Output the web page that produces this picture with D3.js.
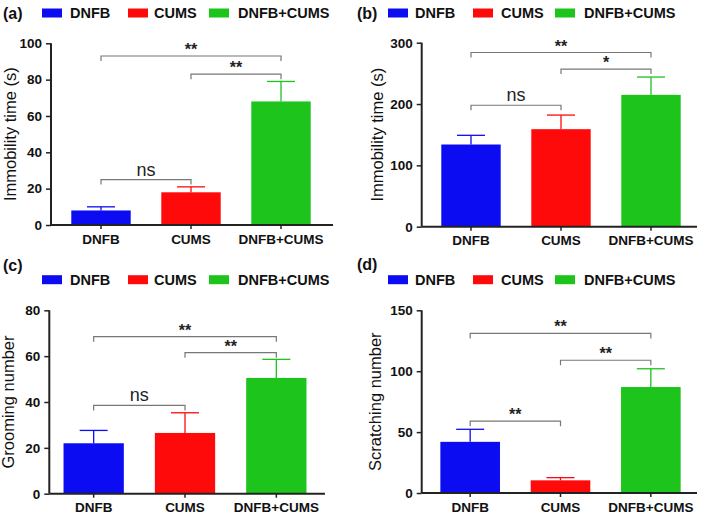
<!DOCTYPE html>
<html><head><meta charset="utf-8">
<script src="https://cdn.jsdelivr.net/npm/d3@7"></script>
<style>body{margin:0;background:#fff}svg{display:block}</style>
</head><body>
<svg id="c" width="709" height="514"></svg>
<script>
const groups = ["DNFB", "CUMS", "DNFB+CUMS"];
const colors = ["#0c0cf2", "#ff0a0a", "#1cc41c"];
const panelLabels = ["(a)", "(b)", "(c)", "(d)"];
const yTitles = ["Immobility time (s)", "Immobility time (s)", "Grooming number", "Scratching number"];
const yMax = [100, 300, 80, 150];
const yTicks = [[0,20,40,60,80,100],[0,100,200,300],[0,20,40,60,80],[0,50,100,150]];
const meansA = [8, 18, 68];
const errA = [10, 21, 79];
const meansB = [134, 159, 215];
const errB = [149, 182, 244];
const meansC = [22, 26.5, 50.5];
const errC = [27.6, 35.3, 58.6];
const meansD = [42, 10.4, 87];
const errD = [52.3, 12.6, 102];
// significance: [from, to, label, bracket level]
const sigA = [[0,2,"**",93],[1,2,"**",83],[0,1,"ns",25]];
const sigB = [[0,2,"**",284],[1,2,"*",257],[0,1,"ns",198]];
const sigC = [[0,2,"**",68.5],[1,2,"**",61.5],[0,1,"ns",38.5]];
const sigD = [[0,2,"**",131],[1,2,"**",109],[0,1,"**",59]];

const means = [meansA, meansB, meansC, meansD];
const errs = [errA, errB, errC, errD];
const sigs = [sigA, sigB, sigC, sigD];

const layout = [
  {axX:51, x1:333, y0:225, yTop:43.3, legY:13, lab:[3,13], swX:[42,128,209], txX:[70,154,238], cat:[56,326], tOff:35.5},
  {axX:421.7, x1:697, y0:226.7, yTop:42.7, legY:13, lab:[357,13], swX:[388,473,555], txX:[415,501,584], cat:[426,696], tOff:39},
  {axX:49.3, x1:325, y0:493.7, yTop:310.3, legY:279.7, lab:[3,265], swX:[42,128,209], txX:[70,154,238], cat:[48,322], tOff:35.5},
  {axX:421.7, x1:697, y0:493, yTop:310.3, legY:279.7, lab:[357,264], swX:[388,473,555], txX:[415,501,584], cat:[425,696], tOff:41}
];

const svg = d3.select("#c");
const font = "Arial, 'Liberation Sans', sans-serif";

layout.forEach((L, p) => {
  const g = svg.append("g");
  const x = d3.scaleBand().domain(groups).range(L.cat).paddingInner(0.34).paddingOuter(0.17);
  const y = d3.scaleLinear().domain([0, yMax[p]]).range([L.y0, L.yTop]);
  const bw = x.bandwidth();
  const cx = d => x(d) + bw/2;

  g.append("text").attr("x", L.lab[0]).attr("y", L.lab[1]).attr("dy", "0.35em")
    .attr("font-family", font).attr("font-weight", "bold").attr("font-size", 16).attr("fill", "#111").text(panelLabels[p]);
  groups.forEach((k, i) => {
    g.append("rect").attr("x", L.swX[i]).attr("y", L.legY - 4.5).attr("width", 20).attr("height", 9).attr("fill", colors[i]);
    g.append("text").attr("x", L.txX[i]).attr("y", L.legY).attr("dy", "0.36em")
      .attr("font-family", font).attr("font-weight", "bold").attr("font-size", 14.5).attr("fill", "#111").text(k);
  });

  groups.forEach((k, i) => {
    const m = means[p][i], e = errs[p][i];
    g.append("line").attr("x1", cx(k)).attr("x2", cx(k)).attr("y1", y(m)).attr("y2", y(e))
      .attr("stroke", colors[i]).attr("stroke-width", 1.3);
    g.append("line").attr("x1", cx(k) - 14).attr("x2", cx(k) + 14).attr("y1", y(e)).attr("y2", y(e))
      .attr("stroke", colors[i]).attr("stroke-width", 1.3);
    g.append("rect").attr("x", x(k)).attr("y", y(m)).attr("width", bw).attr("height", L.y0 - y(m)).attr("fill", colors[i]);
  });

  const ya = g.append("g").attr("transform", `translate(${L.axX},0)`)
    .call(d3.axisLeft(y).tickValues(yTicks[p]).tickSize(5).tickPadding(4).tickFormat(d3.format("d")));
  ya.select(".domain").attr("stroke", "#222").attr("stroke-width", 2).attr("d", `M0,${L.yTop}V${L.y0}`);
  ya.selectAll(".tick line").attr("stroke", "#222").attr("stroke-width", 1.5);
  ya.selectAll("text").attr("font-family", font).attr("font-weight", "bold").attr("font-size", 13.5).attr("fill", "#111");

  const xa = g.append("g").attr("transform", `translate(0,${L.y0})`)
    .call(d3.axisBottom(x).tickSize(4).tickPadding(5));
  xa.select(".domain").attr("stroke", "#222").attr("stroke-width", 2).attr("d", `M${L.axX},0H${L.x1}`);
  xa.selectAll(".tick line").attr("stroke", "#222").attr("stroke-width", 1.5);
  xa.selectAll("text").attr("font-family", font).attr("font-weight", "bold").attr("font-size", 13.5).attr("fill", "#111");

  g.append("text").attr("transform", `translate(${L.axX - L.tOff},${(L.y0 + L.yTop)/2}) rotate(-90)`)
    .attr("text-anchor", "middle").attr("font-family", font).attr("font-size", 16.5).attr("fill", "#111").text(yTitles[p]);

  sigs[p].forEach(([a, b, lab, v]) => {
    const xa1 = cx(groups[a]), xb1 = cx(groups[b]), yy = y(v);
    g.append("path").attr("d", `M${xa1},${yy + 5}V${yy}H${xb1}V${yy + 5}`)
      .attr("fill", "none").attr("stroke", "#777").attr("stroke-width", 1.2);
    const isStar = lab.indexOf("*") >= 0;
    g.append("text").attr("x", (xa1 + xb1)/2).attr("y", isStar ? yy - 1 : yy - 4).attr("text-anchor", "middle")
      .attr("font-family", font).attr("font-weight", isStar ? "bold" : "normal")
      .attr("font-size", isStar ? 16 : 18).attr("fill", "#222").text(lab);
  });
});
</script>
</body></html>
